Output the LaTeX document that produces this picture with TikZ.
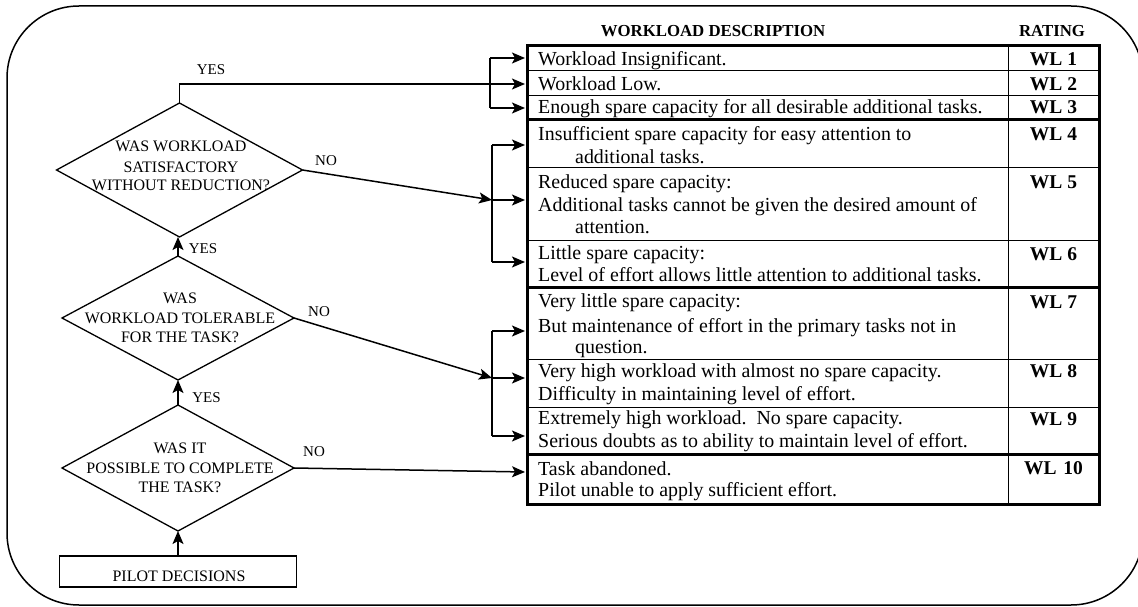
\documentclass[tikz,border=0pt]{standalone}
\usepackage{fontspec}
\setmainfont{Liberation Serif}
\usetikzlibrary{arrows.meta,shapes.geometric}
\begin{document}
\begin{tikzpicture}[x=1pt,y=-1pt,
  conn/.style={line width=1.5pt,-{Stealth[length=13pt,width=11pt,inset=3pt]}},
  plain/.style={line width=1.5pt},
  dec/.style={draw,diamond,line width=1.3pt,inner sep=0pt,outer sep=0pt},
  qline/.style={anchor=base,inner sep=0pt,font=\fontsize{16}{19}\selectfont},
  lab/.style={anchor=base,inner sep=0pt,font=\fontsize{15}{18}\selectfont},
  body/.style={anchor=base west,inner sep=0pt,font=\fontsize{19.9}{22}\selectfont},
  wl/.style={anchor=base,inner sep=0pt,font=\bfseries\fontsize{19.5}{22}\selectfont},
  head/.style={anchor=base,inner sep=0pt,font=\bfseries\fontsize{16.8}{18}\selectfont},
  tbthick/.style={line width=3pt},
  tbthin/.style={line width=1pt},
  framebox/.style={line width=1.5pt,rounded corners=72pt}
]
\useasboundingbox (0,0) rectangle (1138,607);
\begin{scope}
\clip (0,0) rectangle (1138,607);
\draw[framebox] (7,6) rectangle (1143,605);
\end{scope}

% ---------- decisions ----------
\node[dec,minimum width=246pt,minimum height=134pt] (d1) at (179.5,170) {};
\node[dec,minimum width=232pt,minimum height=124pt] (d2) at (178,318) {};
\node[dec,minimum width=232pt,minimum height=126pt] (d3) at (178,468) {};
\node[draw,line width=1.3pt,minimum width=237pt,minimum height=31pt,inner sep=0pt] (pilot) at (178,571.5) {};

\node[qline] (q1a) at (181,152) {WAS WORKLOAD};
\node[qline] (q1b) at (181,172) {SATISFACTORY};
\node[qline] (q1c) at (181,190.5) {WITHOUT REDUCTION?};
\node[qline] (q2a) at (180,303) {WAS};
\node[qline] (q2b) at (180,323) {WORKLOAD TOLERABLE};
\node[qline] (q2c) at (180,342.5) {FOR THE TASK?};
\node[qline] (q3a) at (180,453) {WAS IT};
\node[qline] (q3b) at (180,473) {POSSIBLE TO COMPLETE};
\node[qline] (q3c) at (180,492.5) {THE TASK?};
\node[qline] (pt) at (179,581.5) {PILOT DECISIONS};

% ---------- labels ----------
\node[lab] (yes1) at (211,75) {YES};
\node[lab] (yes2) at (203,253) {YES};
\node[lab] (yes3) at (206.5,402) {YES};
\node[lab] (no1) at (326,165.5) {NO};
\node[lab] (no2) at (319,316) {NO};
\node[lab] (no3) at (314,456.5) {NO};

% ---------- table ----------
\node[head] (hd) at (713,37) {WORKLOAD DESCRIPTION};
\node[head] (hr) at (1052,37) {RATING};

\draw[tbthin] (527,71) -- (1099,71);
\draw[tbthin] (527,96) -- (1099,96);
\draw[tbthin] (527,168) -- (1099,168);
\draw[tbthin] (527,240) -- (1099,240);
\draw[tbthin] (527,359) -- (1099,359);
\draw[tbthin] (527,407) -- (1099,407);
\draw[tbthin] (1008,46) -- (1008,504);
\draw[tbthick] (527,119.5) -- (1099,119.5);
\draw[tbthick] (527,287) -- (1099,287);
\draw[tbthick] (527,454) -- (1099,454);
\draw[tbthick] (527,46) rectangle (1099,504);

\node[body] (r1) at (538,66) {Workload Insignificant.};
\node[body] (r2) at (538,90.5) {Workload Low.};
\node[body] (r3) at (538,113.5) {Enough spare capacity for all desirable additional tasks.};
\node[body] (r4a) at (538,141) {Insufficient spare capacity for easy attention to};
\node[body] (r4b) at (575,164) {additional tasks.};
\node[body] (r5a) at (538,188) {Reduced spare capacity:};
\node[body] (r5b) at (538,211) {Additional tasks cannot be given the desired amount of};
\node[body] (r5c) at (575,233) {attention.};
\node[body] (r6a) at (538,259) {Little spare capacity:};
\node[body] (r6b) at (538,281) {Level of effort allows little attention to additional tasks.};
\node[body] (r7a) at (538,307.5) {Very little spare capacity:};
\node[body] (r7b) at (538,332) {But maintenance of effort in the primary tasks not in};
\node[body] (r7c) at (575,353) {question.};
\node[body] (r8a) at (538,377) {Very high workload with almost no spare capacity.};
\node[body] (r8b) at (538,400) {Difficulty in maintaining level of effort.};
\node[body] (r9a) at (538,424) {Extremely high workload.\ \ No spare capacity.};
\node[body] (r9b) at (538,447) {Serious doubts as to ability to maintain level of effort.};
\node[body] (r10a) at (538,475.5) {Task abandoned.};
\node[body] (r10b) at (538,496.5) {Pilot unable to apply sufficient effort.};

\node[wl] (w1) at (1053.5,66) {WL 1};
\node[wl] (w2) at (1053.5,90.5) {WL 2};
\node[wl] (w3) at (1053.5,113.5) {WL 3};
\node[wl] (w4) at (1053.5,141) {WL 4};
\node[wl] (w5) at (1053.5,188) {WL 5};
\node[wl] (w6) at (1053.5,260) {WL 6};
\node[wl] (w7) at (1053.5,308) {WL 7};
\node[wl] (w8) at (1053.5,377.5) {WL 8};
\node[wl] (w9) at (1053.5,425.5) {WL 9};
\node[wl] (w10) at (1053.5,474.5) {WL\hspace{7pt}10};

% ---------- connector end points ----------
\coordinate (t1) at (525,58);
\coordinate (t2) at (525,84);
\coordinate (t3) at (525,108);
\coordinate (t4) at (525,145);
\coordinate (t5) at (525,200);
\coordinate (t6) at (525,262);
\coordinate (t7) at (525,331);
\coordinate (t8) at (525,378);
\coordinate (t9) at (525,436);
\coordinate (t10) at (525,472);
\coordinate (b1t) at (490,58);
\coordinate (b1b) at (490,108);
\coordinate (b2t) at (492,145);
\coordinate (b2m) at (492,200);
\coordinate (b2b) at (492,262);
\coordinate (b3t) at (492,331);
\coordinate (b3m) at (492,378);
\coordinate (b3b) at (492,436);

% ---------- connectors ----------
\draw[conn] (pilot.north) -- (d3.south);
\draw[conn] (d3.north) -- (d2.south);
\draw[conn] (d2.north) -- (d2.north |- d1.south);
\draw[conn] (d1.north) |- (t2);
\draw[plain] (b1t) -- (b1b);
\draw[conn] (b1t) -- (t1);
\draw[conn] (b1b) -- (t3);

\draw[conn] (d1.east) -- (b2m);
\draw[plain] (b2t) -- (b2b);
\draw[conn] (b2t) -- (t4);
\draw[conn] (b2m) -- (t5);
\draw[conn] (b2b) -- (t6);

\draw[conn] (d2.east) -- (b3m);
\draw[plain] (b3t) -- (b3b);
\draw[conn] (b3t) -- (t7);
\draw[conn] (b3m) -- (t8);
\draw[conn] (b3b) -- (t9);

\draw[conn] (d3.east) -- (t10);
\end{tikzpicture}
\end{document}
